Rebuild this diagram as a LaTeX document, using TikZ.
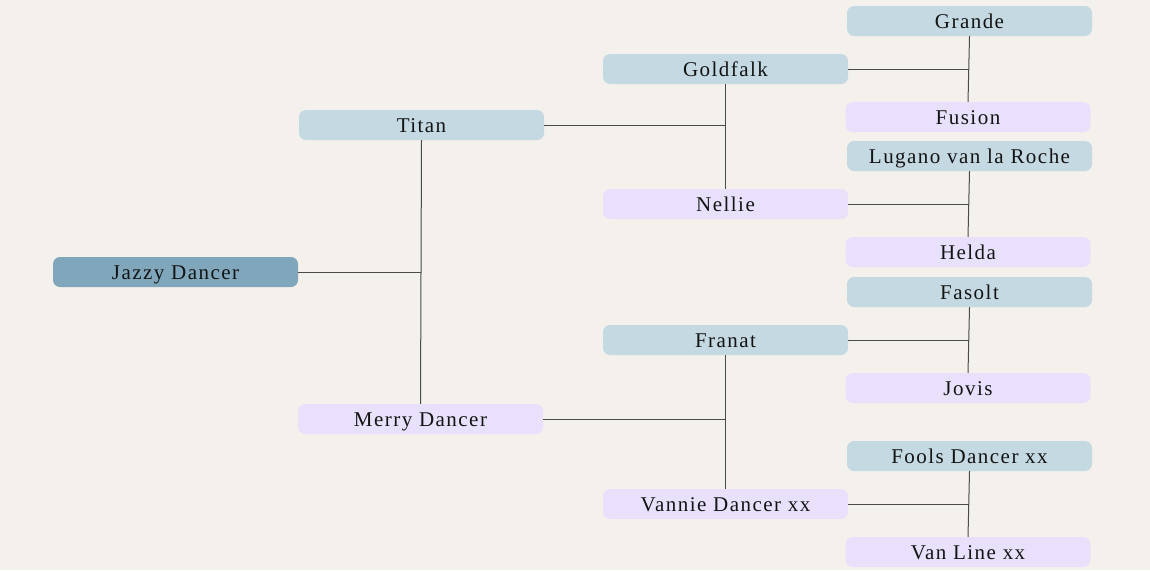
\documentclass[tikz,border=0pt]{standalone}
\usepackage{fontspec}
\setmainfont{Liberation Serif}[LetterSpace=7]
\usepackage{xcolor}
\usepackage{tikz}
\usetikzlibrary{calc}
\definecolor{bg}{HTML}{F4F1EC}
\definecolor{rootbg}{HTML}{7FA6BB}
\definecolor{sirebg}{HTML}{C4D9E2}
\definecolor{dambg}{HTML}{E9E1FB}
\definecolor{ink}{HTML}{141414}
\definecolor{wire}{HTML}{4A4A4A}
\tikzset{
  horse/.style={rounded corners=7pt, minimum width=245pt, minimum height=30pt,
    inner sep=0pt, text=ink, font=\fontsize{21}{23}\selectfont,
    text height=14pt, text depth=0pt},
  root/.style={horse, fill=rootbg},
  sire/.style={horse, fill=sirebg},
  dam/.style={horse, fill=dambg},
  link/.style={draw=wire, line width=1pt},
}

\begin{document}
\begin{tikzpicture}[x=1pt,y=-1pt]
  \fill[bg] (0,0) rectangle (1150,570);
  \useasboundingbox (0,0) rectangle (1150,570);

  % generation 0 and 1
  \node[root] (jazzy) at (175.5,272) {Jazzy Dancer};
  \node[sire] (titan) at (421.5,125) {Titan};
  \node[dam]  (merry) at (420.5,419) {Merry Dancer};

  % generation 2
  \node[sire] (goldfalk) at (725.5,69)  {Goldfalk};
  \node[dam]  (nellie)   at (725.5,204) {Nellie};
  \node[sire] (franat)   at (725.5,340) {Franat};
  \node[dam]  (vannie)   at (725.5,504) {Vannie Dancer xx};

  % generation 3
  \node[sire] (grande) at (969.5,21)  {Grande};
  \node[dam]  (fusion) at (968,117)   {Fusion};
  \node[sire] (lugano) at (969.5,156) {Lugano van la Roche};
  \node[dam]  (helda)  at (968,252)   {Helda};
  \node[sire] (fasolt) at (969.5,292) {Fasolt};
  \node[dam]  (jovis)  at (968,388)   {Jovis};
  \node[sire] (fools)  at (969.5,456) {Fools Dancer xx};
  \node[dam]  (vanline) at (968,552)  {Van Line xx};

  % parent pairs and links to the foal
  \foreach \foal/\father/\mother in {jazzy/titan/merry, titan/goldfalk/nellie,
      merry/franat/vannie, goldfalk/grande/fusion, nellie/lugano/helda,
      franat/fasolt/jovis, vannie/fools/vanline} {
    \draw[link] (\father.south) -- (\mother.north);
    \coordinate (\foal-mid) at ($(\father.south)!0.5!(\mother.north)$);
    \draw[link] (\foal.east) -- (\foal.east -| \foal-mid);
  }
\end{tikzpicture}
\end{document}
